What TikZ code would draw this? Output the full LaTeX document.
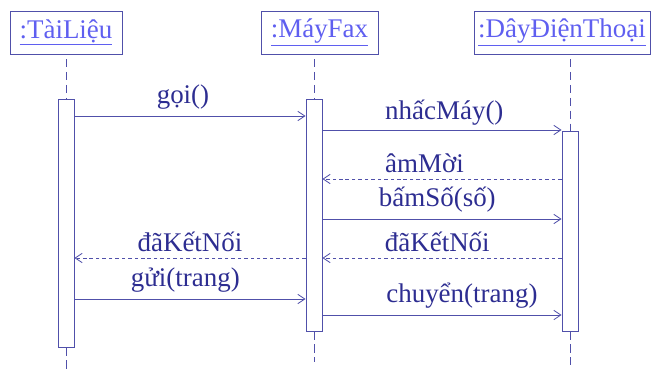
\documentclass[tikz,border=0pt]{standalone}
\usepackage{fontspec}
\setmainfont{Liberation Serif}
\usetikzlibrary{arrows.meta}
\definecolor{umlline}{RGB}{80,80,170}
\definecolor{umltitle}{RGB}{95,95,240}
\definecolor{umltext}{RGB}{45,45,145}

\begin{document}
\begin{tikzpicture}[x=0.03cm,y=-0.03cm,
    >={Straight Barb[length=6pt,width=8pt]},
    obj/.style={draw=umlline,line width=0.7pt,minimum height=1.29cm,inner sep=0pt,
        font=\fontsize{23}{27}\selectfont,text=umltitle},
    act/.style={draw=umlline,line width=0.7pt,fill=white,minimum width=0.48cm,inner sep=0pt},
    life/.style={umlline,line width=0.7pt,dash pattern=on 7pt off 4pt},
    msg/.style={->,umlline,line width=0.7pt},
    reply/.style={msg,dash pattern=on 3pt off 2.5pt},
    lbl/.style={text=umltext,font=\fontsize{23}{27}\selectfont,inner sep=0pt}]
    \useasboundingbox (0,0) rectangle (655,371);
    % Objects
    \node[obj,minimum width=3.36cm] (doc) at (66,32.5) {\underline{:TàiLiệu}};
    \node[obj,minimum width=3.51cm] (fax) at (319.5,32.5) {\underline{:MáyFax}};
    \node[obj,minimum width=5.28cm] (line) at (562,32.5) {\underline{:DâyĐiệnThoại}};
    % Activation bars
    \node[act,minimum height=7.44cm] (actDoc) at (66,223) {};
    \node[act,minimum height=6.96cm] (actFax) at (314,215) {};
    \node[act,minimum height=6.0cm] (actLine) at (570,231) {};
    % Lifelines
    \coordinate (endDoc) at (66,371);
    \coordinate (endFax) at (314,362);
    \coordinate (endLine) at (570,366);
    \draw[life] ([yshift=-4pt]doc.south -| actDoc.north) -- (actDoc.north);
    \draw[life] (actDoc.south) -- (endDoc);
    \draw[life] ([yshift=-4pt]doc.south -| actFax.north) -- (actFax.north);
    \draw[life] (actFax.south) -- (endFax);
    \draw[life] ([yshift=-4pt]doc.south -| actLine.north) -- (actLine.north);
    \draw[life] (actLine.south) -- (endLine);
    % Messages
    \coordinate (y1) at (0,116);
    \coordinate (y2) at (0,130);
    \coordinate (y3) at (0,179);
    \coordinate (y4) at (0,219);
    \coordinate (y5) at (0,258);
    \coordinate (y6) at (0,299);
    \coordinate (y7) at (0,315);
    \draw[msg] (actDoc.east |- y1) -- node[lbl,above=5pt,xshift=-6pt] {gọi()} (actFax.west |- y1);
    \draw[msg] (actFax.east |- y2) -- node[lbl,above=4pt,xshift=2pt] {nhấcMáy()} (actLine.west |- y2);
    \draw[reply] (actLine.west |- y3) -- node[lbl,above=5pt,xshift=-15pt] {âmMời} (actFax.east |- y3);
    \draw[msg] (actFax.east |- y4) -- node[lbl,above=5pt,xshift=-4pt] {bấmSố(số)} (actLine.west |- y4);
    \draw[reply] (actLine.west |- y5) -- node[lbl,above=5pt,xshift=-4pt] {đãKếtNối} (actFax.east |- y5);
    \draw[reply] (actFax.west |- y5) -- node[lbl,above=5pt] {đãKếtNối} (actDoc.east |- y5);
    \draw[msg] (actDoc.east |- y6) -- node[lbl,above=5pt,xshift=-4pt] {gửi(trang)} (actFax.west |- y6);
    \draw[msg] (actFax.east |- y7) -- node[lbl,above=5pt,xshift=17pt] {chuyển(trang)} (actLine.west |- y7);
\end{tikzpicture}
\end{document}
